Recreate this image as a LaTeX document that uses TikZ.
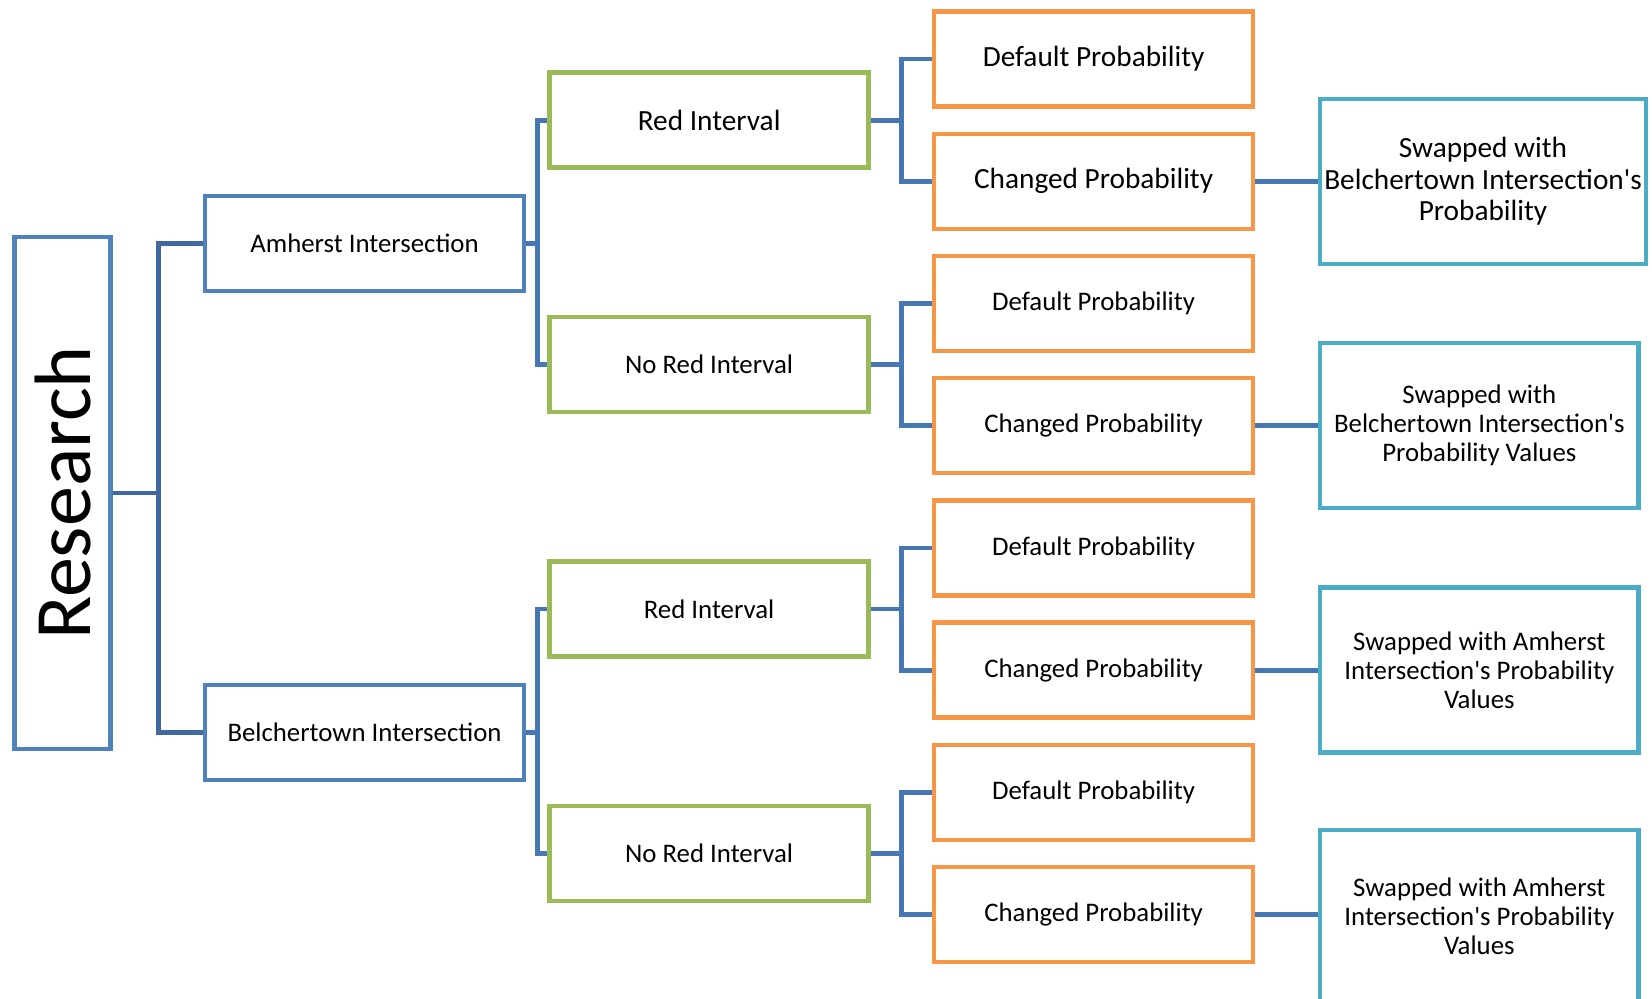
\documentclass[tikz,border=0pt]{standalone}
\usepackage{fontspec}
\setmainfont{Carlito}
\usepackage{xcolor}
\usepackage{tikz}
\usetikzlibrary{positioning}
\definecolor{boxblue}{RGB}{79,129,189}
\definecolor{boxgreen}{RGB}{155,187,89}
\definecolor{boxorange}{RGB}{247,150,70}
\definecolor{boxcyan}{RGB}{75,172,198}
\definecolor{linkblue}{RGB}{72,120,180}
\definecolor{rootblue}{RGB}{64,104,158}
\newcommand{\apos}{\textquotesingle}

\tikzset{
  box/.style={draw, line width=2.2pt, fill=white, align=center, inner sep=1pt,
    minimum width=159.5pt, minimum height=47.5pt,
    font=\fontsize{13.4}{14.5}\selectfont},
  big/.style={font=\fontsize{14.65}{15.8}\selectfont},
  rootbox/.style={box, draw=boxblue, minimum width=48pt, minimum height=256pt,
    font=\fontsize{40}{41}\selectfont},
  bluebox/.style={box, draw=boxblue},
  greenbox/.style={box, draw=boxgreen},
  orangebox/.style={box, draw=boxorange},
  cyanbox/.style={box, draw=boxcyan, minimum width=159.25pt, minimum height=82.5pt},
  link/.style={draw=linkblue, line width=2.4pt},
  rootlink/.style={draw=rootblue, line width=2.4pt}
}

\begin{document}
\begin{tikzpicture}[x=0.5pt, y=-0.5pt]
\useasboundingbox (0,0) rectangle (1652,998);
\clip (0,0) rectangle (1652,998);
\pgfmathsetmacro{\colA}{364.5}
\pgfmathsetmacro{\colB}{709.1}
\pgfmathsetmacro{\colC}{1093.6}
\pgfmathsetmacro{\colD}{1479.3}

% root and intersections
\node[rootbox] (res) at (62.6,493) {\rotatebox{90}{Research}};
\node[bluebox] (amh) at (\colA,243.4) {Amherst Intersection};
\node[bluebox] (bel) at (\colA,732.3) {Belchertown Intersection};

% intervals
\node[greenbox, big] (ri1) at (\colB,120.1) {Red Interval};
\node[greenbox] (nri1) at (\colB,364.5) {No Red Interval};
\node[greenbox] (ri2) at (\colB,609) {Red Interval};
\node[greenbox] (nri2) at (\colB,853.4) {No Red Interval};

% probabilities
\node[orangebox, big] (dp1) at (\colC,59) {Default Probability};
\node[orangebox, big] (cp1) at (\colC,181.2) {Changed Probability};
\node[orangebox] (dp2) at (\colC,303.4) {Default Probability};
\node[orangebox] (cp2) at (\colC,425.7) {Changed Probability};
\node[orangebox] (dp3) at (\colC,547.9) {Default Probability};
\node[orangebox] (cp3) at (\colC,670.1) {Changed Probability};
\node[orangebox] (dp4) at (\colC,792.3) {Default Probability};
\node[orangebox] (cp4) at (\colC,914.5) {Changed Probability};

% swaps
\node[cyanbox, big, minimum width=163pt] (sw1) at (1483,181.2) {Swapped with\\Belchertown Intersection\apos s\\Probability};
\node[cyanbox] (sw2) at (\colD,425.7) {Swapped with\\Belchertown Intersection\apos s\\Probability Values};
\node[cyanbox] (sw3) at (\colD,670.1) {Swapped with Amherst\\Intersection\apos s Probability\\Values};
\node[cyanbox, minimum height=86pt] (sw4) at (\colD,916) {Swapped with Amherst\\Intersection\apos s Probability\\Values};

% connectors
\draw[rootlink] (res.east) -- ++(45.3,0) |- (amh.west);
\draw[rootlink] (res.east) -- ++(45.3,0) |- (bel.west);

\draw[link] (amh.east) -- ++(11.6,0) |- (ri1.west);
\draw[link] (amh.east) -- ++(11.6,0) |- (nri1.west);
\draw[link] (bel.east) -- ++(11.6,0) |- (ri2.west);
\draw[link] (bel.east) -- ++(11.6,0) |- (nri2.west);

\draw[link] (ri1.east) -- ++(30.5,0) |- (dp1.west);
\draw[link] (ri1.east) -- ++(30.5,0) |- (cp1.west);
\draw[link] (nri1.east) -- ++(30.5,0) |- (dp2.west);
\draw[link] (nri1.east) -- ++(30.5,0) |- (cp2.west);
\draw[link] (ri2.east) -- ++(30.5,0) |- (dp3.west);
\draw[link] (ri2.east) -- ++(30.5,0) |- (cp3.west);
\draw[link] (nri2.east) -- ++(30.5,0) |- (dp4.west);
\draw[link] (nri2.east) -- ++(30.5,0) |- (cp4.west);

\draw[link] (cp1.east) -- (sw1.west);
\draw[link] (cp2.east) -- (sw2.west);
\draw[link] (cp3.east) -- (sw3.west);
\draw[link] (cp4.east) -- (cp4.east -| sw4.west);
\end{tikzpicture}
\end{document}
